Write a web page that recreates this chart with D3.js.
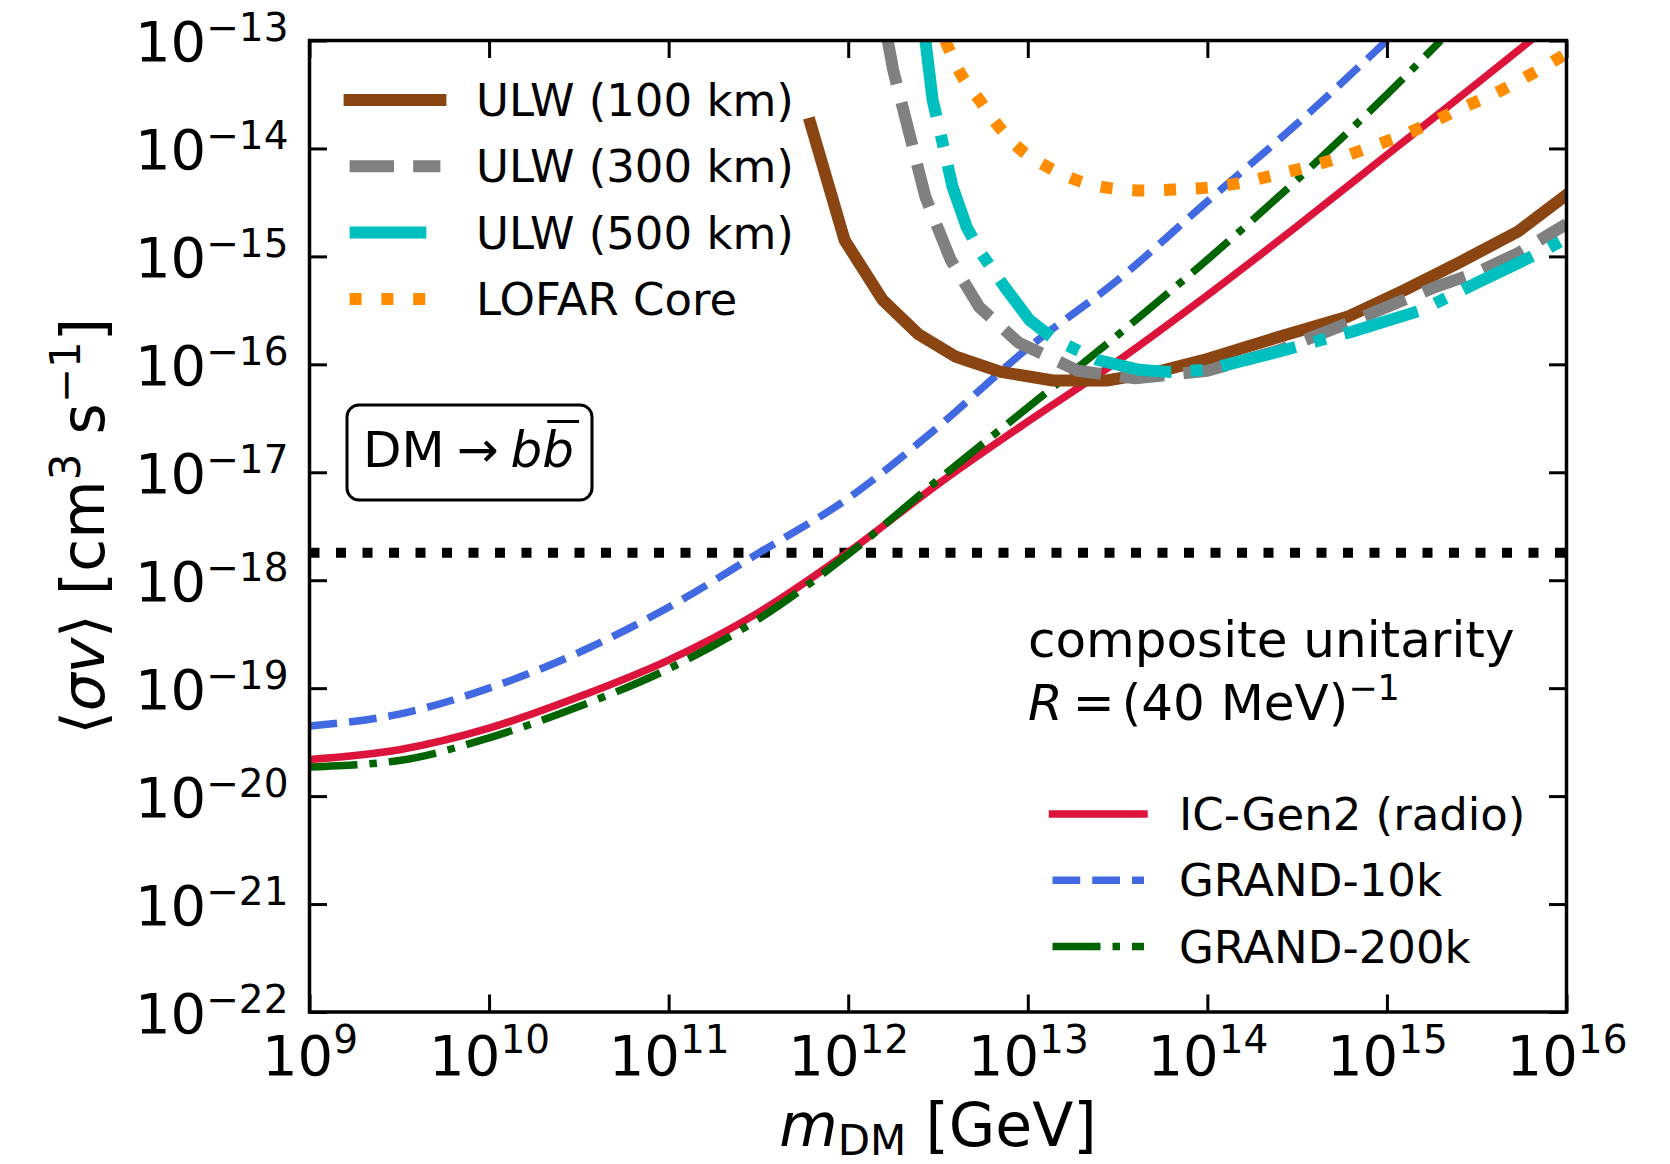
<!DOCTYPE html>
<html>
<head>
<meta charset="utf-8">
<script src="https://cdnjs.cloudflare.com/ajax/libs/d3/7.8.5/d3.min.js"></script>
<style>
  body { margin: 0; background: #fff; }
  svg text { font-family: "DejaVu Sans", sans-serif; fill: #000; }
</style>
</head>
<body>
<div id="chart"></div>
<script>
// all values are log10 exponents: m_DM in GeV, <sigma v> in cm^3 s^-1
var icGen2M = [9, 9.5, 10, 10.5, 11, 11.5, 12, 12.5, 13, 13.5, 14, 14.5, 15, 15.5, 15.8];
var icGen2S = [-19.66, -19.57, -19.37, -19.08, -18.74, -18.30, -17.74, -17.11, -16.53, -15.97, -15.36, -14.72, -14.06, -13.40, -13.0];

var grand10kM = [9, 9.5, 10, 10.5, 11, 11.5, 12, 12.5, 13, 13.5, 14, 14.5, 15];
var grand10kS = [-19.35, -19.24, -19.00, -18.67, -18.25, -17.75, -17.24, -16.58, -15.85, -15.22, -14.49, -13.77, -13.0];

var grand200kM = [9, 9.5, 10, 10.5, 11, 11.5, 12, 12.5, 13, 13.5, 14, 14.5, 15, 15.3];
var grand200kS = [-19.73, -19.67, -19.46, -19.17, -18.82, -18.36, -17.76, -17.07, -16.40, -15.73, -15.03, -14.29, -13.50, -13.0];

var ulw100M = [11.79, 11.98, 12.19, 12.39, 12.60, 12.85, 13.14, 13.44, 13.72, 14.0, 14.41, 14.78, 15.1, 15.41, 15.73, 16.0];
var ulw100S = [-13.77, -14.85, -15.40, -15.72, -15.93, -16.07, -16.15, -16.15, -16.07, -15.95, -15.74, -15.56, -15.31, -15.05, -14.77, -14.43];

var ulw300M = [12.22, 12.25, 12.34, 12.43, 12.57, 12.73, 12.95, 13.28, 13.6, 14.0, 14.4, 14.78, 15.26, 15.5, 15.73, 16.0];
var ulw300S = [-13.0, -13.27, -13.86, -14.45, -15.03, -15.47, -15.80, -16.06, -16.13, -16.06, -15.87, -15.62, -15.29, -15.15, -14.97, -14.70];

var ulw500M = [12.43, 12.47, 12.54, 12.58, 12.66, 12.74, 12.87, 13.01, 13.14, 13.39, 13.62, 13.78, 14.0, 14.4, 14.8, 15.19, 15.52, 15.87, 16.0];
var ulw500S = [-13.0, -13.55, -14.05, -14.35, -14.73, -14.97, -15.28, -15.59, -15.76, -15.96, -16.05, -16.07, -16.05, -15.88, -15.70, -15.50, -15.23, -14.95, -14.83];

var lofarM = [12.54, 12.62, 12.73, 12.84, 12.96, 13.12, 13.30, 13.47, 13.66, 13.83, 14.02, 14.21, 14.39, 14.56, 14.75, 14.92, 15.10, 15.26, 15.41, 15.59, 15.75, 15.92, 16.0];
var lofarS = [-13.0, -13.29, -13.55, -13.80, -14.01, -14.18, -14.31, -14.37, -14.39, -14.38, -14.36, -14.31, -14.24, -14.17, -14.08, -13.98, -13.87, -13.75, -13.63, -13.50, -13.36, -13.20, -13.12];

var unitarityLevel = 1.8e-18;

var xTickExp = [9, 10, 11, 12, 13, 14, 15, 16];
var yTickExp = [-22, -21, -20, -19, -18, -17, -16, -15, -14, -13];

var legendTop = ["ULW (100 km)", "ULW (300 km)", "ULW (500 km)", "LOFAR Core"];
var legendBottom = ["IC-Gen2 (radio)", "GRAND-10k", "GRAND-200k"];

var W = 1670, H = 1164;
var pL = 309.5, pR = 1566.5, pT = 40.5, pB = 1012;
var tickLen = 17.5;

var svg = d3.select("#chart").append("svg")
    .attr("width", W)
    .attr("height", H);

var x = d3.scaleLog().domain([1e9, 1e16]).range([pL, pR]);
var y = d3.scaleLog().domain([1e-22, 1e-13]).range([pB, pT]);

function pairs(ms, ss) {
    return ms.map(function(m, i) { return [Math.pow(10, m), Math.pow(10, ss[i])]; });
}

svg.append("clipPath").attr("id", "plotclip")
    .append("rect")
    .attr("x", pL).attr("y", pT)
    .attr("width", pR - pL).attr("height", pB - pT);

var plot = svg.append("g").attr("clip-path", "url(#plotclip)");

var smooth = d3.line()
    .x(function(d) { return x(d[0]); })
    .y(function(d) { return y(d[1]); })
    .curve(d3.curveMonotoneX);
var poly = d3.line()
    .x(function(d) { return x(d[0]); })
    .y(function(d) { return y(d[1]); });

// series styles (matplotlib-like dash patterns scaled by linewidth)
var series = [
    { data: pairs(icGen2M, icGen2S), color: "#DC143C", lw: 7.5, dash: null, gen: smooth },
    { data: pairs(grand10kM, grand10kS), color: "#4169E1", lw: 7.5, dash: "27.75,12", gen: smooth },
    { data: pairs(grand200kM, grand200kS), color: "#006400", lw: 7.5, dash: "48,12,7.5,12", gen: smooth },
    { data: pairs(ulw100M, ulw100S), color: "#8B4513", lw: 12, dash: null, gen: poly },
    { data: pairs(ulw300M, ulw300S), color: "#808080", lw: 12, dash: "44.4,19.2", gen: poly },
    { data: pairs(ulw500M, ulw500S), color: "#00BFBF", lw: 12, dash: "76.8,19.2,12,19.2", gen: poly },
    { data: pairs(lofarM, lofarS), color: "#FF8C00", lw: 12, dash: "12,19.8", gen: smooth }
];

// unitarity line
plot.append("path")
    .datum([[1e9, unitarityLevel], [1e16, unitarityLevel]])
    .attr("d", poly)
    .attr("fill", "none")
    .attr("stroke", "#000")
    .attr("stroke-width", 10)
    .attr("stroke-dasharray", "10,16.5");

series.forEach(function(s) {
    plot.append("path")
        .datum(s.data)
        .attr("d", s.gen)
        .attr("fill", "none")
        .attr("stroke", s.color)
        .attr("stroke-width", s.lw)
        .attr("stroke-linejoin", "round")
        .attr("stroke-linecap", s.dash ? "butt" : "square")
        .attr("stroke-dasharray", s.dash);
});

// axes, ticks inward on all four sides
var xTicks = xTickExp.map(function(e) { return Math.pow(10, e); });
var yTicks = yTickExp.map(function(e) { return Math.pow(10, e); });

function styleAxis(g) {
    g.select(".domain").remove();
    g.selectAll(".tick line").attr("stroke", "#000").attr("stroke-width", 3);
}
function supText(v) {
    var e = Math.round(Math.log10(v));
    return e < 0 ? "\u2212" + Math.abs(e) : String(e);
}

var gBottom = svg.append("g").attr("transform", "translate(0," + pB + ")")
    .call(d3.axisBottom(x).tickValues(xTicks).tickSizeInner(-tickLen).tickSizeOuter(0).tickFormat(""));
styleAxis(gBottom);
gBottom.selectAll(".tick text").each(function(d) {
    var t = d3.select(this).attr("y", 63).attr("dy", 0)
        .attr("font-size", 56).attr("text-anchor", "middle")
        .attr("font-family", "DejaVu Sans").attr("fill", "#000");
    t.append("tspan").text("10");
    t.append("tspan").attr("dy", -22).attr("font-size", 39).text(supText(d));
});

var gLeft = svg.append("g").attr("transform", "translate(" + pL + ",0)")
    .call(d3.axisLeft(y).tickValues(yTicks).tickSizeInner(-tickLen).tickSizeOuter(0).tickPadding(21).tickFormat(""));
styleAxis(gLeft);
gLeft.selectAll(".tick text").each(function(d) {
    var t = d3.select(this).attr("y", 20).attr("dy", 0)
        .attr("font-size", 56).attr("text-anchor", "end")
        .attr("font-family", "DejaVu Sans").attr("fill", "#000");
    t.append("tspan").text("10");
    t.append("tspan").attr("dy", -20).attr("font-size", 39).text(supText(d));
});

var gTop = svg.append("g").attr("transform", "translate(0," + pT + ")")
    .call(d3.axisTop(x).tickValues(xTicks).tickSizeInner(-tickLen).tickSizeOuter(0).tickFormat(""));
styleAxis(gTop);
var gRight = svg.append("g").attr("transform", "translate(" + pR + ",0)")
    .call(d3.axisRight(y).tickValues(yTicks).tickSizeInner(-tickLen).tickSizeOuter(0).tickFormat(""));
styleAxis(gRight);

svg.append("rect")
    .attr("x", pL).attr("y", pT)
    .attr("width", pR - pL).attr("height", pB - pT)
    .attr("fill", "none").attr("stroke", "#000").attr("stroke-width", 3.5);

// axis labels
var xl = svg.append("text")
    .attr("x", (pL + pR) / 2).attr("y", 1146)
    .attr("text-anchor", "middle").attr("font-size", 60);
xl.append("tspan").attr("font-style", "italic").text("m");
xl.append("tspan").attr("font-size", 42).attr("dy", 9).text("DM");
xl.append("tspan").attr("dy", -9).text(" [GeV]");

var yl = svg.append("text")
    .attr("transform", "translate(104," + (pT + pB) / 2 + ") rotate(-90)")
    .attr("text-anchor", "middle").attr("font-size", 60);
yl.append("tspan").text("\u27E8");
yl.append("tspan").attr("font-style", "italic").text("\u03C3v");
yl.append("tspan").text("\u27E9 [cm");
yl.append("tspan").attr("font-size", 42).attr("dy", -24).text("3");
yl.append("tspan").attr("dy", 24).text(" s");
yl.append("tspan").attr("font-size", 42).attr("dy", -24).text("\u22121");
yl.append("tspan").attr("dy", 24).text("]");

// legends
var topRows = [100, 166.3, 232.6, 299];
series.slice(3).forEach(function(s, i) {
    svg.append("line")
        .attr("x1", 349.6).attr("x2", 440.4)
        .attr("y1", topRows[i]).attr("y2", topRows[i])
        .attr("stroke", s.color).attr("stroke-width", s.lw)
        .attr("stroke-linecap", s.dash ? "butt" : "square")
        .attr("stroke-dasharray", s.dash);
    svg.append("text")
        .attr("x", 476).attr("y", topRows[i] + 16)
        .attr("font-size", 45)
        .text(legendTop[i]);
});

var botRows = [814, 880.3, 946.6];
series.slice(0, 3).forEach(function(s, i) {
    svg.append("line")
        .attr("x1", 1052.5).attr("x2", 1144)
        .attr("y1", botRows[i]).attr("y2", botRows[i])
        .attr("stroke", s.color).attr("stroke-width", s.lw)
        .attr("stroke-linecap", s.dash ? "butt" : "square")
        .attr("stroke-dasharray", s.dash);
    svg.append("text")
        .attr("x", 1179).attr("y", botRows[i] + 16)
        .attr("font-size", 45)
        .text(legendBottom[i]);
});

// annotations
svg.append("text").attr("x", 1028).attr("y", 657).attr("font-size", 50).text("composite unitarity");
var rt = svg.append("text").attr("x", 1028).attr("y", 720).attr("font-size", 50);
rt.append("tspan").attr("font-style", "italic").text("R");
rt.append("tspan").attr("dx", 10).text("=");
rt.append("tspan").attr("dx", 7).text("(40 MeV)");
rt.append("tspan").attr("font-size", 35).attr("dy", -20).text("\u22121");

svg.append("rect")
    .attr("x", 347).attr("y", 405).attr("width", 245).attr("height", 95)
    .attr("rx", 12).attr("ry", 12)
    .attr("fill", "#fff").attr("stroke", "#000").attr("stroke-width", 3);
var bt = svg.append("text").attr("x", 363).attr("y", 467).attr("font-size", 50);
bt.append("tspan").text("DM");
bt.append("tspan").attr("dx", 12).text("\u2192");
bt.append("tspan").attr("dx", 12).attr("font-style", "italic").text("b");
bt.append("tspan").attr("font-style", "italic").text("b");
var n = bt.node();
var bx0 = n.getStartPositionOfChar(4).x, bx1 = n.getEndPositionOfChar(4).x;
svg.append("line")
    .attr("x1", bx0 + 5).attr("x2", bx1 + 5)
    .attr("y1", 421.5).attr("y2", 421.5)
    .attr("stroke", "#000").attr("stroke-width", 3);
</script>
</body>
</html>
